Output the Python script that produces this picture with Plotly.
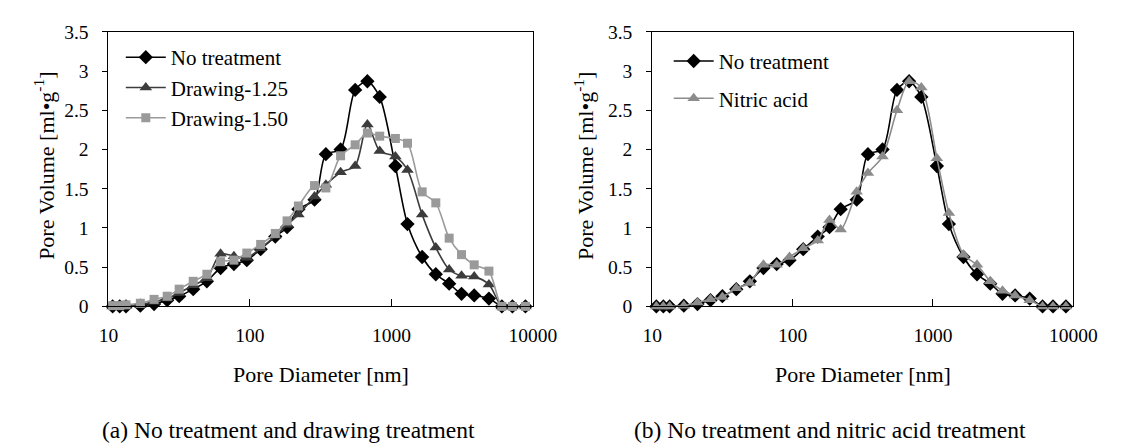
import plotly.graph_objects as go

# Pore diameters [nm] (shared measuring points)
diameter = [10.7, 12.0, 13.3, 16.8, 21.0, 26.0, 31.6, 39.7, 49.6, 62.0, 77.0, 95.0,
            119, 151, 183, 220, 286, 344, 437, 554, 676, 826, 1066, 1298, 1648,
            2058, 2558, 3128, 3845, 4886, 6030, 7160, 8850]

# Pore volume [ml/g]
no_treatment = [0.0, 0.0, 0.0, 0.01, 0.03, 0.08, 0.13, 0.22, 0.32, 0.49, 0.54, 0.59,
                0.73, 0.89, 1.01, 1.24, 1.36, 1.94, 2.00, 2.76, 2.87, 2.67, 1.79, 1.05,
                0.63, 0.41, 0.29, 0.16, 0.14, 0.10, 0.0, 0.0, 0.0]
drawing_125 = [0.0, 0.0, 0.01, 0.02, 0.06, 0.10, 0.17, 0.27, 0.36, 0.67, 0.64, 0.62,
               0.74, 0.90, 1.04, 1.17, 1.40, 1.55, 1.71, 1.79, 2.32, 1.98, 1.91, 1.74,
               1.17, 0.75, 0.47, 0.39, 0.38, 0.28, 0.0, 0.0, 0.0]
drawing_150 = [0.01, 0.01, 0.02, 0.04, 0.09, 0.13, 0.22, 0.32, 0.41, 0.57, 0.59, 0.68,
               0.79, 0.93, 1.09, 1.28, 1.54, 1.51, 1.92, 2.06, 2.21, 2.17, 2.14, 2.08,
               1.46, 1.32, 0.87, 0.66, 0.53, 0.45, 0.0, 0.0, 0.0]
nitric_acid = [0.0, 0.0, 0.0, 0.01, 0.05, 0.09, 0.12, 0.23, 0.30, 0.53, 0.53, 0.63,
               0.74, 0.84, 1.10, 0.98, 1.46, 1.70, 1.91, 2.50, 2.87, 2.79, 1.89, 1.19,
               0.66, 0.53, 0.32, 0.20, 0.14, 0.08, 0.0, 0.0, 0.0]

x_ticks = [10, 100, 1000, 10000]
x_ticktext = ["10", "100", "1000", "10000"]

W, H = 1124, 445
FONT = "Liberation Serif"


def px(x):
    return x / W


def py(y):
    return 1 - y / H


fig = go.Figure()

SPL = dict(shape="spline", smoothing=0.8)

fig.add_trace(go.Scatter(x=diameter, y=no_treatment, name="No treatment", mode="lines+markers",
                         line=dict(color="#000000", width=1.6, **SPL),
                         marker=dict(symbol="diamond", size=11, color="#000000"),
                         cliponaxis=False, xaxis="x", yaxis="y", legend="legend"))
fig.add_trace(go.Scatter(x=diameter, y=drawing_125, name="Drawing-1.25", mode="lines+markers",
                         line=dict(color="#3c3c3c", width=1.6, **SPL),
                         marker=dict(symbol="triangle-up", size=11, color="#3c3c3c"),
                         cliponaxis=False, xaxis="x", yaxis="y", legend="legend"))
fig.add_trace(go.Scatter(x=diameter, y=drawing_150, name="Drawing-1.50", mode="lines+markers",
                         line=dict(color="#9a9a9a", width=1.6, **SPL),
                         marker=dict(symbol="square", size=9, color="#9a9a9a"),
                         cliponaxis=False, xaxis="x", yaxis="y", legend="legend"))

fig.add_trace(go.Scatter(x=diameter, y=no_treatment, name="No treatment", mode="lines+markers",
                         line=dict(color="#000000", width=1.6, **SPL),
                         marker=dict(symbol="diamond", size=11, color="#000000"),
                         cliponaxis=False, xaxis="x2", yaxis="y2", legend="legend2",
                         legendgroup="b1"))
fig.add_trace(go.Scatter(x=diameter, y=nitric_acid, name="Nitric acid", mode="lines+markers",
                         line=dict(color="#8c8c8c", width=1.6, **SPL),
                         marker=dict(symbol="triangle-up", size=11, color="#8c8c8c"),
                         cliponaxis=False, xaxis="x2", yaxis="y2", legend="legend2",
                         legendgroup="b2"))

xcommon = dict(type="log", range=[1, 4], tickvals=x_ticks, ticktext=x_ticktext,
               ticks="inside", ticklen=7, tickcolor="#000", showline=True, linecolor="#000",
               linewidth=1, mirror=True, showgrid=False, zeroline=False,
               tickfont=dict(family=FONT, size=19.5, color="#000"), ticklabelstandoff=11)
ycommon = dict(range=[0, 3.5], dtick=0.5, ticks="outside", ticklen=5, tickcolor="#000",
               showline=True, linecolor="#000", linewidth=1, mirror=True, showgrid=False,
               zeroline=False, tickfont=dict(family=FONT, size=19.5, color="#000"),
               ticklabelstandoff=10)

ydom = [py(302.7), py(14.5)]
fig.update_layout(
    width=W, height=H,
    margin=dict(l=0, r=0, t=0, b=0),
    paper_bgcolor="white", plot_bgcolor="white",
    font=dict(family=FONT, color="#000"),
    xaxis=dict(domain=[px(93.3), px(531)], anchor="y", **xcommon),
    yaxis=dict(domain=ydom, anchor="x", **ycommon),
    xaxis2=dict(domain=[px(654), px(1088.3)], anchor="y2", **xcommon),
    yaxis2=dict(domain=ydom, anchor="x2", **ycommon),
    legend=dict(x=px(106), y=py(20), xanchor="left", yanchor="top",
                font=dict(family=FONT, size=21, color="#000"), bgcolor="rgba(0,0,0,0)",
                itemwidth=40, tracegroupgap=0),
    legend2=dict(x=px(671), y=py(24), xanchor="left", yanchor="top",
                 font=dict(family=FONT, size=21, color="#000"), bgcolor="rgba(0,0,0,0)",
                 itemwidth=40, traceorder="grouped", tracegroupgap=7),
    showlegend=True,
)

ann = []
# axis titles
ann.append(dict(text="Pore Diameter [nm]", x=px(312), y=py(374), showarrow=False,
                xanchor="center", yanchor="middle", font=dict(size=22)))
ann.append(dict(text="Pore Diameter [nm]", x=px(871), y=py(374), showarrow=False,
                xanchor="center", yanchor="middle", font=dict(size=22)))
ytitle = "Pore Volume [ml•g<sup>-1</sup>]"
ann.append(dict(text=ytitle, x=px(27), y=py(155), showarrow=False, textangle=-90,
                xanchor="center", yanchor="middle", font=dict(size=22)))
ann.append(dict(text=ytitle, x=px(583), y=py(155), showarrow=False, textangle=-90,
                xanchor="center", yanchor="middle", font=dict(size=22)))
# captions
ann.append(dict(text="(a) No treatment and drawing treatment", x=px(278.5), y=py(432),
                showarrow=False, xanchor="center", yanchor="middle", font=dict(size=23.5)))
ann.append(dict(text="(b) No treatment and nitric acid treatment", x=px(837.5), y=py(432),
                showarrow=False, xanchor="center", yanchor="middle", font=dict(size=23.5)))
for a in ann:
    a["xref"] = "paper"
    a["yref"] = "paper"
    a["font"].update(family=FONT, color="#000")
fig.update_layout(annotations=ann)

fig.write_html("out.html")
